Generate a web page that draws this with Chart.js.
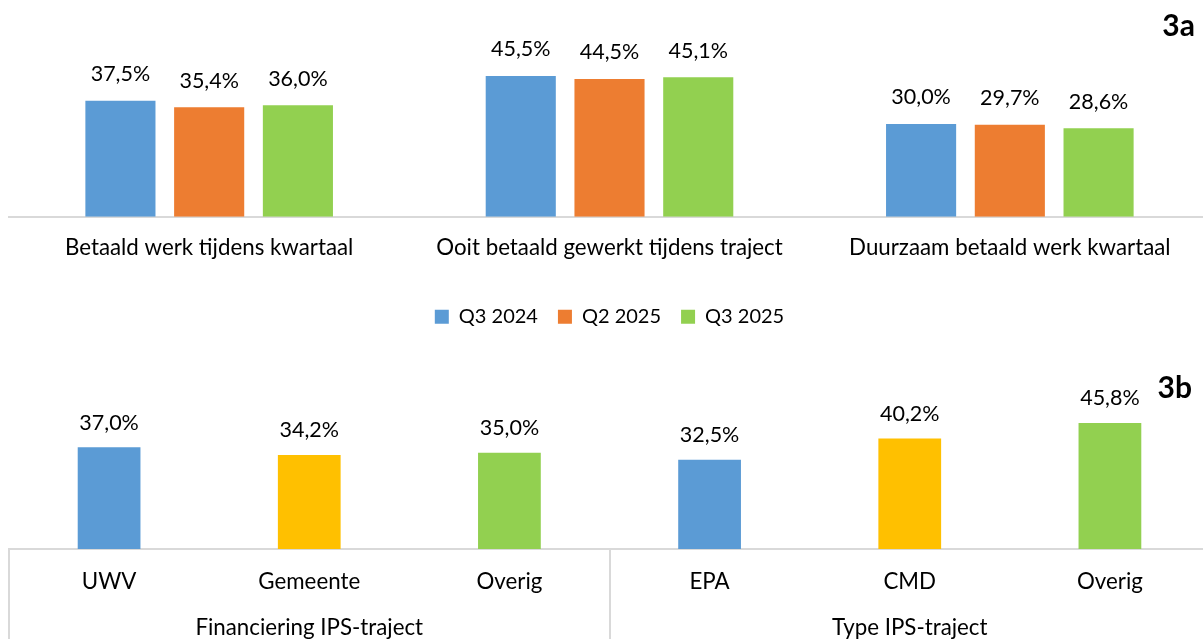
<!DOCTYPE html>
<html>
<head>
<meta charset="utf-8">
<script src="https://cdn.jsdelivr.net/npm/chart.js@4.4.1/dist/chart.umd.min.js"></script>
<style>
    html, body { margin: 0; padding: 0; background: #fff; overflow: hidden; }
    #wrap { position: relative; width: 1210px; height: 639px; }
    .box { position: absolute; left: 0; width: 1210px; }
    #box3a { top: 0; height: 340px; }
    #box3b { top: 340px; height: 299px; }
</style>
</head>
<body>
<div id="wrap">
    <div class="box" id="box3a"><canvas id="chart3a"></canvas></div>
    <div class="box" id="box3b"><canvas id="chart3b"></canvas></div>
</div>
<script>
// 3a: werkuitkomsten per kwartaal
const kpiLabels = ['Betaald werk tijdens kwartaal', 'Ooit betaald gewerkt tijdens traject', 'Duurzaam betaald werk kwartaal'];
const seriesNames = ['Q3 2024', 'Q2 2025', 'Q3 2025'];
const q3_2024 = [37.5, 45.5, 30.0];
const q2_2025 = [35.4, 44.5, 29.7];
const q3_2025 = [36.0, 45.1, 28.6];

// 3b: uitsplitsing Q3 2025
const ipsLabels = ['UWV', 'Gemeente', 'Overig', 'EPA', 'CMD', 'Overig'];
const ipsGroups = ['Financiering IPS-traject', 'Type IPS-traject'];
const ipsValues = [37.0, 34.2, 35.0, 32.5, 40.2, 45.8];

const BLUE = '#5B9BD5';
const ORANGE = '#ED7D31';
const GREEN = '#92D050';
const YELLOW = '#FFC000';
const AXIS_GREY = '#D9D9D9';
const FONT = 'Lato';
const AXIS_FONT = 22.3;

Chart.defaults.font.family = FONT;
Chart.defaults.color = '#000';

const formatPct = (v) => v.toFixed(1).replace('.', ',') + '%';

// labels boven de staven
const valueLabels = {
    id: 'valueLabels',
    afterDatasetsDraw(chart, args, opts) {
        const ctx = chart.ctx;
        ctx.save();
        ctx.font = `${opts.size}px ${FONT}`;
        ctx.fillStyle = '#000';
        ctx.textAlign = 'center';
        ctx.textBaseline = 'middle';
        chart.data.datasets.forEach((ds, i) => {
            chart.getDatasetMeta(i).data.forEach((bar, j) => {
                ctx.fillText(formatPct(ds.data[j]), bar.x, bar.y - opts.offset);
            });
        });
        ctx.restore();
    }
};

// "3a" / "3b" rechtsboven
const panelTag = {
    id: 'panelTag',
    afterDraw(chart, args, opts) {
        const ctx = chart.ctx;
        ctx.save();
        ctx.font = `bold ${opts.size}px ${FONT}`;
        ctx.fillStyle = '#000';
        ctx.textAlign = 'right';
        ctx.textBaseline = 'middle';
        ctx.fillText(opts.text, opts.x, opts.y);
        ctx.restore();
    }
};

new Chart(document.getElementById('chart3a'), {
    type: 'bar',
    data: {
        labels: kpiLabels,
        datasets: [
            { label: seriesNames[0], data: q3_2024, backgroundColor: BLUE },
            { label: seriesNames[1], data: q2_2025, backgroundColor: ORANGE },
            { label: seriesNames[2], data: q3_2025, backgroundColor: GREEN }
        ]
    },
    options: {
        responsive: true,
        maintainAspectRatio: false,
        animation: false,
        categoryPercentage: 0.665,
        barPercentage: 0.79,
        layout: { padding: { top: 62, left: 9, right: 0, bottom: 3.25 } },
        scales: {
            x: {
                grid: { display: false, drawTicks: false },
                border: { display: true, color: AXIS_GREY, width: 2 },
                ticks: { font: { size: AXIS_FONT }, padding: 18, autoSkip: false, maxRotation: 0 },
                afterFit: (scale) => { scale.height = 70; }
            },
            y: { display: false, min: 0, max: 50 }
        },
        plugins: {
            legend: {
                position: 'bottom',
                labels: { boxWidth: 14, boxHeight: 14, padding: 20, font: { size: 20 } }
            },
            tooltip: { enabled: false },
            valueLabels: { size: 21.5, offset: 26.5 },
            panelTag: { text: '3a', size: 30, x: 1195, y: 26.5 }
        }
    },
    plugins: [valueLabels, panelTag]
});

// alleen de scheidingslijnen tussen de groepen tonen
const groupEdge = (c) => (c.index === undefined || c.index % 3 === 0) ? AXIS_GREY : 'rgba(0,0,0,0)';

new Chart(document.getElementById('chart3b'), {
    type: 'bar',
    data: {
        labels: ipsLabels,
        datasets: [{
            label: 'Q3 2025',
            data: ipsValues,
            backgroundColor: [BLUE, YELLOW, GREEN, BLUE, YELLOW, GREEN]
        }]
    },
    options: {
        responsive: true,
        maintainAspectRatio: false,
        animation: false,
        categoryPercentage: 1,
        barPercentage: 0.3135,
        layout: { padding: { top: 71.5, left: 9, right: 0, bottom: 0 } },
        scales: {
            x: {
                position: 'bottom',
                grid: { display: true, drawOnChartArea: false, drawTicks: true, tickLength: 45, offset: true, color: groupEdge, lineWidth: 2 },
                border: { display: true, color: AXIS_GREY, width: 2 },
                ticks: { font: { size: AXIS_FONT }, padding: -25.8, autoSkip: false, maxRotation: 0 },
                afterFit: (scale) => { scale.height = 45; }
            },
            x2: {
                type: 'category',
                position: 'bottom',
                labels: ipsGroups,
                offset: true,
                grid: { display: true, drawOnChartArea: false, drawTicks: true, tickLength: 45, offset: true, color: AXIS_GREY, lineWidth: 2 },
                border: { display: false },
                ticks: { font: { size: AXIS_FONT }, padding: -24.8, autoSkip: false, maxRotation: 0 },
                afterFit: (scale) => { scale.height = 45; }
            },
            y: { display: false, min: 0, max: 50 }
        },
        plugins: {
            legend: { display: false },
            tooltip: { enabled: false },
            valueLabels: { size: 21.5, offset: 24.5 },
            panelTag: { text: '3b', size: 30, x: 1192, y: 48.5 }
        }
    },
    plugins: [valueLabels, panelTag]
});
</script>
</body>
</html>
